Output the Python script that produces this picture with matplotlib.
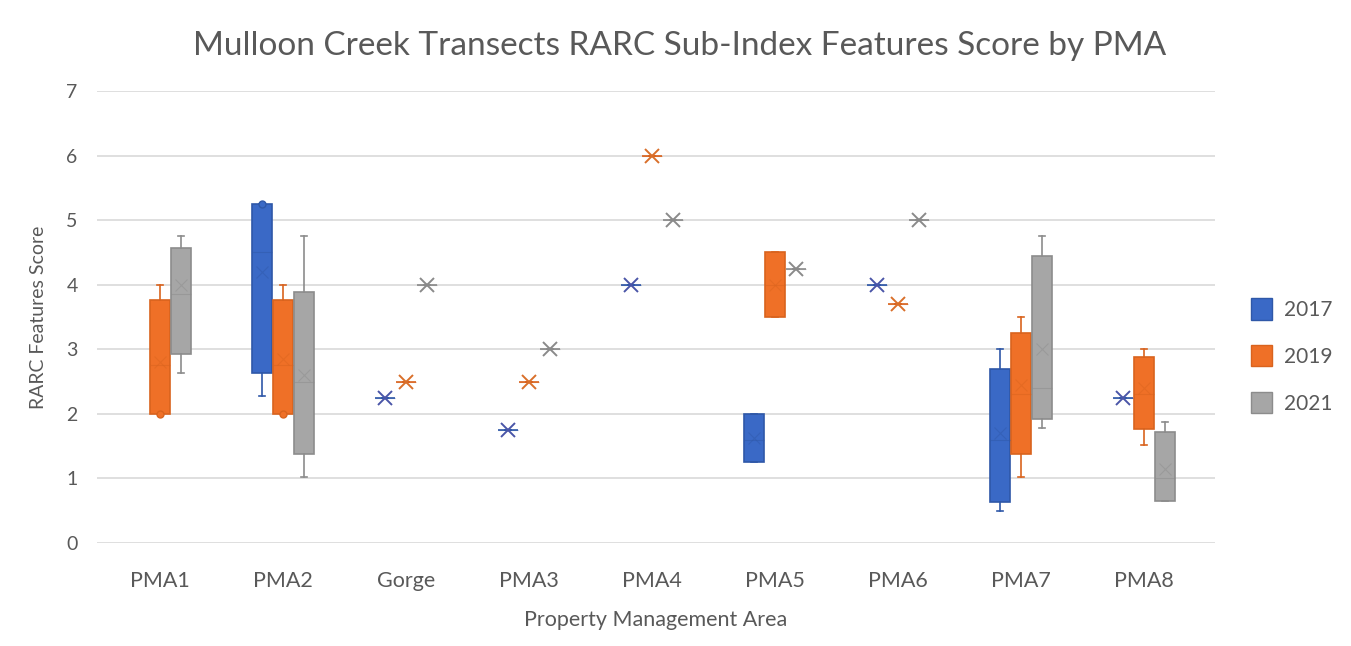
import matplotlib.pyplot as plt
import numpy as np

categories = ["PMA1", "PMA2", "Gorge", "PMA3", "PMA4", "PMA5", "PMA6", "PMA7", "PMA8"]
years = ["2017", "2019", "2021"]

# per category: (whisker low, q1, median, q3, whisker high, mean), a single number
# when only one value exists, None when there is no data
stats_2017 = [None, (2.27, 2.63, 4.5, 5.25, 5.25, 4.2), 2.25, 1.75, 4.0,
              (1.25, 1.25, 1.6, 2.0, 2.0, 1.63), 4.0, (0.5, 0.63, 1.6, 2.7, 3.0, 1.7), 2.25]
stats_2019 = [(2.0, 2.0, 2.75, 3.77, 4.0, 2.8), (2.0, 2.0, 2.75, 3.77, 4.0, 2.85), 2.5, 2.5, 6.0,
              (3.5, 3.5, 4.0, 4.5, 4.5, 4.0), 3.7, (1.02, 1.38, 2.3, 3.25, 3.5, 2.45),
              (1.52, 1.77, 2.3, 2.88, 3.0, 2.4)]
stats_2021 = [(2.63, 2.92, 3.85, 4.57, 4.75, 4.0), (1.02, 1.38, 2.5, 3.88, 4.75, 2.6), 4.0, 3.0, 5.0,
              4.25, 5.0, (1.78, 1.92, 2.4, 4.45, 4.75, 3.0), (0.65, 0.65, 1.0, 1.72, 1.88, 1.15)]
fliers_2017 = {1: [5.25]}
fliers_2019 = {0: [2.0], 1: [2.0]}
fliers_2021 = {}

all_stats = [stats_2017, stats_2019, stats_2021]
all_fliers = [fliers_2017, fliers_2019, fliers_2021]
fill_colors = ["#3A69C6", "#EF7027", "#A6A6A6"]
edge_colors = ["#2F58A8", "#D9631E", "#8C8C8C"]
mark_colors = ["#4A55A8", "#D96F2A", "#8A8A8A"]
offsets = [-0.171, 0.0, 0.171]

plt.rcParams['font.family'] = ['Lato', 'DejaVu Sans']
fig = plt.figure(figsize=(13.51, 6.46), dpi=100)
ax = fig.add_axes([97/1351, (646-543)/646, (1215-97)/1351, (543-91)/646])

for k in range(3):
    bxp_stats = []
    pos = []
    for i, s in enumerate(all_stats[k]):
        if s is None:
            continue
        if not isinstance(s, tuple):
            s = (s,) * 6
        lo, q1, med, q3, hi, mean = s
        bxp_stats.append(dict(whislo=lo, q1=q1, med=med, q3=q3, whishi=hi, mean=mean,
                              fliers=all_fliers[k].get(i, [])))
        pos.append(i + offsets[k])
    ax.bxp(bxp_stats, positions=pos, widths=0.165, patch_artist=True, showmeans=False,
           capwidths=0.045,
           boxprops=dict(facecolor=fill_colors[k], edgecolor=edge_colors[k], linewidth=1.2),
           whiskerprops=dict(color=edge_colors[k], linewidth=1.2),
           capprops=dict(color=edge_colors[k], linewidth=1.2),
           medianprops=dict(color=edge_colors[k], linewidth=0.8, alpha=0.5),
           flierprops=dict(marker='o', markersize=5, markerfacecolor=fill_colors[k],
                           markeredgecolor=edge_colors[k]))
    for b, p in zip(bxp_stats, pos):
        single = b['q1'] == b['q3']
        ax.plot(p, b['mean'], marker='x', linestyle='none',
                markersize=10 if single else 8, markeredgewidth=1.4 if single else 0.8,
                color=mark_colors[k] if single else edge_colors[k],
                alpha=1.0 if single else 0.45, zorder=5)

ax.set_xlim(-0.512, 8.577)
ax.set_ylim(0, 7)
ax.set_yticks(range(8))
ax.set_xticks(range(len(categories)))
ax.set_xticklabels(categories)
ax.tick_params(length=0, labelsize=14, colors="#595959")
ax.tick_params(axis='x', labelsize=15.5, pad=20)
ax.tick_params(axis='y', pad=14)
ax.grid(axis='y', color="#D9D9D9", linewidth=1.2)
ax.set_axisbelow(True)
for sp in ax.spines.values():
    sp.set_visible(False)

ax.set_xlabel("Property Management Area", fontsize=15.5, color="#595959", labelpad=14)
ax.set_ylabel("RARC Features Score", fontsize=14, color="#595959", labelpad=14)
fig.text(680/1351, 1 - 46/646, "Mulloon Creek Transects RARC Sub-Index Features Score by PMA",
         ha='center', va='center', fontsize=24, color="#595959")

handles = [plt.Rectangle((0, 0), 1, 1, facecolor=fill_colors[k], edgecolor=edge_colors[k])
           for k in range(3)]
fig.legend(handles, years, loc='center left', bbox_to_anchor=(1232/1351, 1 - 356/646),
           frameon=False, fontsize=15, labelcolor="#595959", handlelength=1.0,
           handleheight=1.2, labelspacing=1.2, handletextpad=0.6)

fig.savefig("out.png", dpi=100)
